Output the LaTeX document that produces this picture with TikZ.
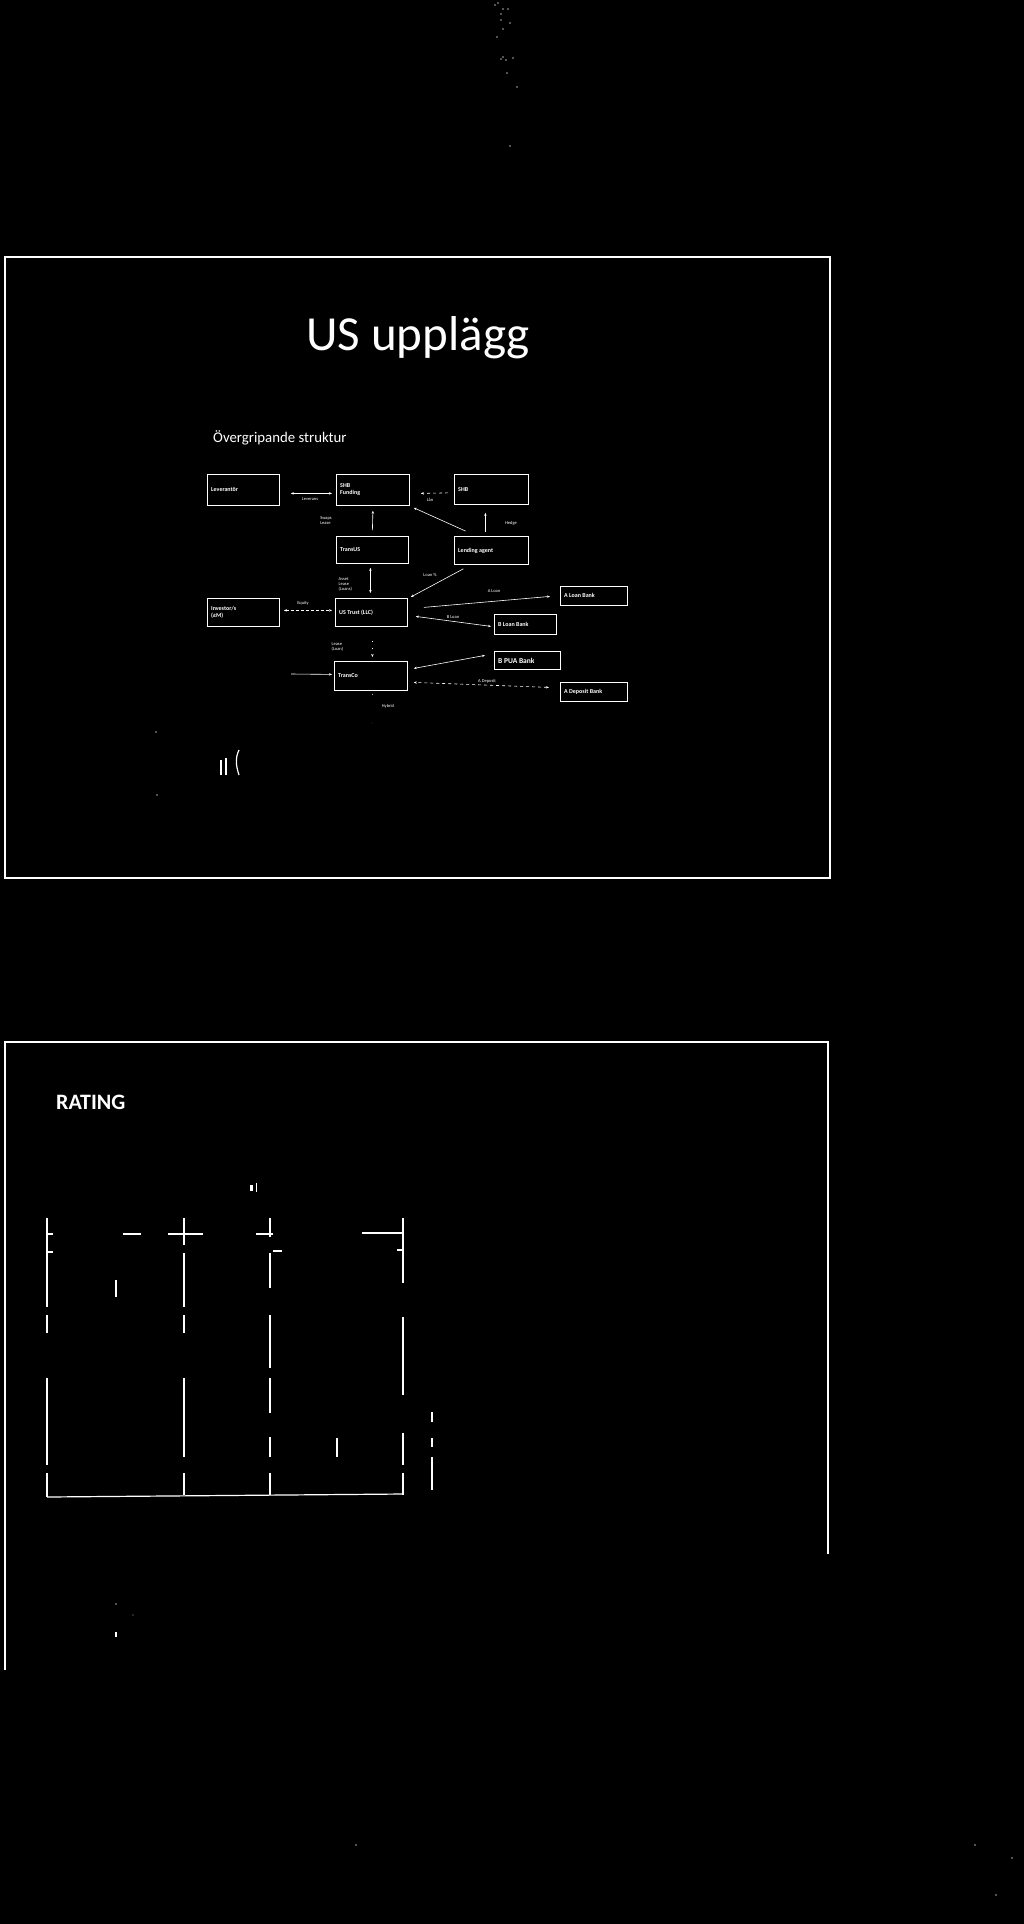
\documentclass[tikz,border=0pt]{standalone}
\usepackage{fontspec}
\setmainfont{Carlito}
\usetikzlibrary{arrows.meta}
\tikzset{
  box/.style={draw=white, line width=0.8pt, anchor=north west, inner sep=0pt},
  boxtxt/.style={text=white, font=\bfseries\fontsize{6}{7}\selectfont, align=left, inner sep=0pt, anchor=west, xshift=4pt},
  lbl/.style={text=white, font=\fontsize{4.5}{5}\selectfont, inner sep=0.5pt, align=left},
  conn/.style={draw=white, line width=0.6pt},
  arr/.style={conn, -{Stealth[length=3pt,width=2.4pt]}},
  darr/.style={conn, {Stealth[length=3pt,width=2.4pt]}-{Stealth[length=3pt,width=2.4pt]}},
  frameline/.style={draw=white, line width=2pt},
  tabline/.style={draw=white, line width=1.2pt},
  speck/.style={fill=gray!70, draw=none},
}
\newcommand\bx[6]{\node[box,minimum width=#4pt,minimum height=#5pt] (#1) at (#2,#3) {};
  \node[boxtxt] (#1t) at (#1.west) {#6};}
\begin{document}
\begin{tikzpicture}[x=1pt,y=-1pt]
\useasboundingbox (0,0) rectangle (1024,1924);
\fill[black] (0,0) rectangle (1024,1924);

% specks at the top
\foreach \p in {(495,5),(498,3),(503,9),(508,9),(501,14),(501,20),(510,23),(503,29),(497,37),(503,57),(501,59),(506,60),(513,58),(507,73),(517,87),(510,146)}
  \fill[speck] \p circle (0.8);

% ---------- slide 1 ----------
\draw[frameline] (5,257) rectangle (830,878);
\node[text=white, font=\fontsize{49}{52}\selectfont, anchor=base, inner sep=0pt] (title) at (418,350) {US upplägg};
\node[text=white, font=\fontsize{14.8}{16}\selectfont, anchor=base west, inner sep=0pt] (sub) at (213,442) {Övergripande struktur};

\bx{lev}{207}{474}{72}{31}{Leverantör}
\bx{shbf}{336}{474}{73}{31}{SHB\\Funding}
\bx{shb}{454}{474}{74}{30}{SHB}
\bx{trus}{336}{536}{72}{27}{TransUS}
\bx{lend}{454}{536}{74}{28}{Lending agent}
\bx{inv}{207}{598}{72}{28}{Investor/s\\(£M)}
\bx{ust}{335}{598}{72}{28}{US Trust (LLC)}
\bx{aloan}{560}{586}{67}{19}{A Loan Bank}
\bx{bloan}{494}{614}{62}{20}{B Loan Bank}
\node[box,minimum width=66pt,minimum height=18pt] (bpua) at (494,651) {};
\node[boxtxt, font=\bfseries\fontsize{7.5}{8}\selectfont] (bpuat) at (bpua.west) {B PUA Bank};
\bx{transco}{334}{661}{73}{29}{TransCo}
\bx{adep}{560}{682}{67}{19}{A Deposit Bank}

% connectors
\draw[darr] ([shift={(11,3.5)}]lev.east) -- ([shift={(-4,3.5)}]shbf.west);
\node[lbl] (l1) at (310,499) {Leverans};
\draw[arr, dashed] ([shift={(-6,3.5)}]shb.west) -- ([shift={(11,3.5)}]shbf.east);
\node[lbl] (l2) at (430,500) {Lån};
\draw[arr] ([shift={(0,-6)}]trus.north) -- ([shift={(0,5)}]shbf.south);
\node[lbl] (l3) at (326,521) {Swaps\\Lease};
\draw[arr] ([shift={(-26,-5)}]lend.north) -- ([shift={(4,2)}]shbf.south east);
\draw[arr] ([shift={(-6,-4)}]lend.north) -- ([shift={(-6,8)}]shb.south);
\node[lbl] (l4) at (511,523) {Hedge};
\draw[arr] ([shift={(-28,4)}]lend.south) -- ([shift={(3,-1)}]ust.north east);
\node[lbl] (l5) at (430,575) {Loan \%};
\draw[darr] ([shift={(-2,4)}]trus.south) -- ([shift={(-1,-5)}]ust.north);
\node[lbl, anchor=west] (l6) at (338,584) {Asset\\Lease\\(Loans)};
\draw[darr, densely dashed] ([shift={(4,-2)}]inv.east) -- ([shift={(-3,-2)}]ust.west);
\node[lbl] (l7) at (303,603) {Equity};
\draw[arr] ([shift={(16,-5)}]ust.east) -- ([shift={(-10,0.5)}]aloan.west);
\node[lbl] (l8) at (494,591) {A Loan};
\draw[darr] ([shift={(8,4)}]ust.east) -- ([shift={(-3,2)}]bloan.west);
\node[lbl] (l9) at (453,617) {B Loan};
\draw[arr, dash pattern=on 1pt off 6pt] ([shift={(1,14)}]ust.south) -- ([shift={(1.5,-4)}]transco.north);
\node[lbl, anchor=west] (l10) at (331,647) {Lease\\(Loan)};
\coordinate (tin) at (291,674);
\draw[arr] (tin) -- ([shift={(-2,-1.5)}]transco.west);
\draw[darr] ([shift={(-9,-5)}]bpua.west) -- ([shift={(6,-7.5)}]transco.east);
\draw[darr, dashed] ([shift={(-11,-4.5)}]adep.west) -- ([shift={(6,6.5)}]transco.east);
\node[lbl] (l11) at (487,681) {A Deposit};
\coordinate (hyb) at (372,723);
\draw[conn, dash pattern=on 1pt off 28pt] ([shift={(1.5,3)}]transco.south) -- (hyb);
\node[lbl] (l12) at (388,706) {Hybrid};

% stray marks
\fill[speck] (156,732) circle (0.8);
\fill[speck] (157,795) circle (0.8);
\draw[white, line width=1.2pt] (221,760) -- (221,775) (226,758) -- (226,775);
\draw[white, line width=1.2pt] (239,750) .. controls (235,758) and (236,766) .. (239,775);

% ---------- slide 2 ----------
\draw[frameline] (5,1670) -- (5,1042) -- (828,1042) -- (828,1554);
\node[text=white, font=\bfseries\fontsize{22}{24}\selectfont, anchor=base west, inner sep=0pt] (rating) at (56,1109) {RATING};

% table fragments
\draw[tabline] (47,1218) -- (47,1307) (47,1315) -- (47,1333) (47,1378) -- (47,1465) (47,1473) -- (47,1497);
\draw[tabline] (47,1497) -- (403,1494);
\draw[tabline] (184,1218) -- (184,1245) (184,1253) -- (184,1307) (184,1315) -- (184,1333) (184,1378) -- (184,1457) (184,1473) -- (184,1495);
\draw[tabline] (168,1234) -- (203,1234);
\draw[tabline] (270,1218) -- (270,1237) (270,1253) -- (270,1288) (270,1315) -- (270,1368) (270,1378) -- (270,1413) (270,1437) -- (270,1457) (270,1473) -- (270,1495);
\draw[tabline] (256,1234) -- (273,1234) (273,1251) -- (282,1251);
\draw[tabline] (403,1218) -- (403,1283) (403,1317) -- (403,1395) (403,1433) -- (403,1465) (403,1473) -- (403,1495);
\draw[tabline] (362,1233) -- (403,1233) (397,1250) -- (403,1250);
\draw[tabline] (47,1234) -- (53,1234) (47,1252) -- (53,1252);
\draw[tabline] (123,1234) -- (141,1234);
\draw[tabline] (116,1280) -- (116,1297);
\draw[tabline] (337,1438) -- (337,1457);
\draw[tabline] (432,1412) -- (432,1422) (432,1438) -- (432,1447) (432,1457) -- (432,1490);
\draw[white, line width=1pt] (256,1183) -- (256,1192);
\fill[white] (250,1185) rectangle (253,1191);
\fill[speck] (116,1604) circle (0.9);
\fill[speck] (133,1615) circle (0.6);
\fill[white] (115,1632) rectangle (117,1637);

% specks at the bottom
\foreach \p in {(356,1845),(975,1845),(1012,1858),(996,1895)}
  \fill[speck] \p circle (0.8);
\end{tikzpicture}
\end{document}
